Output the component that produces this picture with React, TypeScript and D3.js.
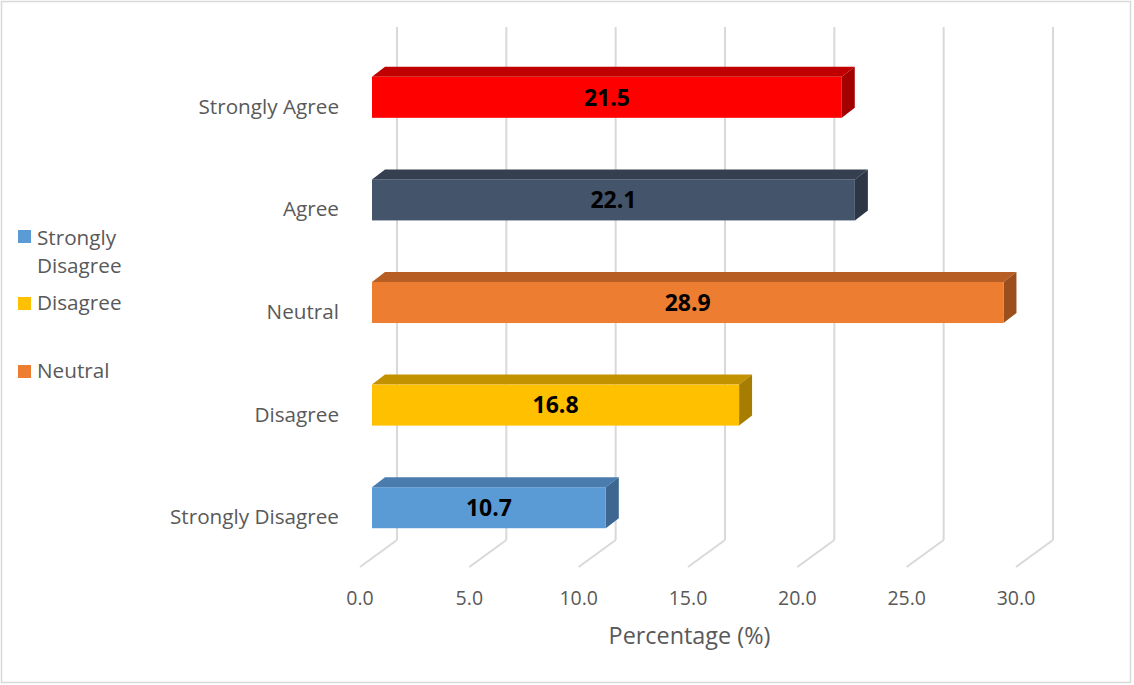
import React from "react";
import * as d3 from "d3";

// Survey responses, top to bottom as they appear on the category axis
const categories = ["Strongly Agree", "Agree", "Neutral", "Disagree", "Strongly Disagree"];
const values = [21.5, 22.1, 28.9, 16.8, 10.7];
const tickValues = [0, 5, 10, 15, 20, 25, 30];
const legendItems = ["Strongly Disagree", "Disagree", "Neutral"];

// face colours for each bar: front, top, side
const frontColors = ["#FF0000", "#44546A", "#ED7D31", "#FFC000", "#5B9BD5"];
const topColors = ["#C00000", "#343F50", "#B65E24", "#C29200", "#4A7DAE"];
const sideColors = ["#A30000", "#2C3645", "#9C4F1C", "#A67D00", "#3D6791"];
const legendColors = ["#5B9BD5", "#FFC000", "#ED7D31"];

const W = 1134;
const H = 685;
const FONT = "'Open Sans', 'Liberation Sans', sans-serif";
const GRAY = "#595959";
const LABEL_SIZE = 20.7;

// depth of the 3D floor and of each bar box
const FLOOR_DX = 37;
const FLOOR_DY = -27;
const BAR_DX = 13;
const BAR_DY = -10;

export default function App() {
  const xFront = d3.scaleLinear().domain([0, 30]).range([360, 1016]);
  const xBack = d3.scaleLinear().domain([0, 30]).range([360 + FLOOR_DX, 1016 + FLOOR_DX]);
  const xBar = d3.scaleLinear().domain([0, 30]).range([372, 372 + 30 * 21.85]);
  const y = d3
    .scaleBand<string>()
    .domain(categories)
    .range([46, 559])
    .paddingInner(0.6)
    .paddingOuter(0.3);

  const floorY = 567;
  const backY = floorY + FLOOR_DY;
  const gridTop = 27;

  return (
    <svg
      width={W}
      height={H}
      style={{ position: "absolute", left: 0, top: 0, background: "#fff" }}
      fontFamily={FONT}
    >
      <rect x={1.5} y={1.5} width={1129} height={681} fill="#fff" stroke="#D9D9D9" strokeWidth={1.5} />

      {/* back wall gridlines and floor lines */}
      {tickValues.map((t) => (
        <g key={"g" + t} stroke="#D9D9D9" strokeWidth={2} fill="none">
          <line x1={xBack(t)} x2={xBack(t)} y1={gridTop} y2={backY} />
          <line x1={xBack(t)} x2={xFront(t)} y1={backY} y2={floorY} />
        </g>
      ))}

      {/* bars */}
      {categories.map((c, i) => {
        const v = values[i];
        const x0 = xBar(0);
        const x1 = xBar(v);
        const yt = y(c)!;
        const yb = yt + y.bandwidth();
        const top = [
          [x0, yt],
          [x1, yt],
          [x1 + BAR_DX, yt + BAR_DY],
          [x0 + BAR_DX, yt + BAR_DY],
        ];
        const side = [
          [x1, yt],
          [x1 + BAR_DX, yt + BAR_DY],
          [x1 + BAR_DX, yb + BAR_DY],
          [x1, yb],
        ];
        return (
          <g key={c}>
            <polygon points={top.map((p) => p.join(",")).join(" ")} fill={topColors[i]} />
            <polygon points={side.map((p) => p.join(",")).join(" ")} fill={sideColors[i]} />
            <rect x={x0} y={yt} width={x1 - x0} height={yb - yt} fill={frontColors[i]} />
            <text
              x={(x0 + x1) / 2}
              y={(yt + yb) / 2}
              dy="0.36em"
              textAnchor="middle"
              fontWeight="bold"
              fontSize={23}
              fill="#000"
            >
              {v.toFixed(1)}
            </text>
          </g>
        );
      })}

      {/* category labels */}
      {categories.map((c) => (
        <text
          key={"l" + c}
          x={339}
          y={y(c)! + y.bandwidth() / 2 + 9}
          dy="0.36em"
          textAnchor="end"
          fontSize={LABEL_SIZE}
          fill={GRAY}
        >
          {c}
        </text>
      ))}

      {/* value axis ticks */}
      {tickValues.map((t) => (
        <text key={"t" + t} x={xFront(t)} y={598} dy="0.36em" textAnchor="middle" fontSize={19.5} fill={GRAY}>
          {t.toFixed(1)}
        </text>
      ))}
      <text x={(xFront(0) + xFront(30)) / 2 + 1.5} y={636} dy="0.36em" textAnchor="middle" fontSize={23.4} fill={GRAY}>
        Percentage (%)
      </text>

      {/* legend */}
      <g fontSize={LABEL_SIZE} fill={GRAY}>
        <rect x={18} y={230} width={13} height={13} fill={legendColors[0]} />
        <text x={37} y={238} dy="0.36em">Strongly</text>
        <text x={37} y={266} dy="0.36em">Disagree</text>
        <rect x={18} y={297} width={13} height={13} fill={legendColors[1]} />
        <text x={37} y={303} dy="0.36em">{legendItems[1]}</text>
        <rect x={18} y={365} width={13} height={13} fill={legendColors[2]} />
        <text x={37} y={371} dy="0.36em">{legendItems[2]}</text>
      </g>
    </svg>
  );
}
